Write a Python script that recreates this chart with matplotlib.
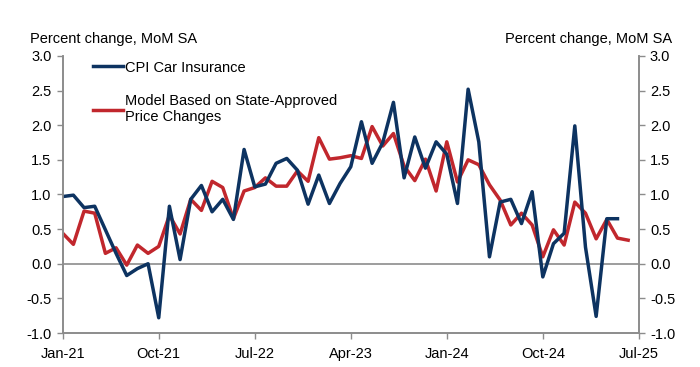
import matplotlib
matplotlib.use("Agg")
import matplotlib.pyplot as plt

plt.rcParams["font.family"] = ["Liberation Sans", "DejaVu Sans"]

# Monthly series, Jan-21 onward
cpi_car_insurance = [
    0.97, 0.99, 0.81, 0.83, 0.49, 0.15, -0.17, -0.07, 0.00, -0.78,
    0.83, 0.06, 0.93, 1.13, 0.75, 0.93, 0.64, 1.65, 1.11, 1.15,
    1.45, 1.52, 1.35, 0.86, 1.28, 0.87, 1.16, 1.40, 2.05, 1.45,
    1.75, 2.33, 1.24, 1.83, 1.38, 1.76, 1.58, 0.87, 2.52, 1.76,
    0.10, 0.89, 0.93, 0.58, 1.04, -0.19, 0.29, 0.44, 1.99, 0.24,
    -0.76, 0.65, 0.65,
]
model_state_approved = [
    0.44, 0.28, 0.76, 0.73, 0.15, 0.23, -0.02, 0.27, 0.15, 0.25,
    0.70, 0.43, 0.93, 0.77, 1.19, 1.10, 0.65, 1.05, 1.10, 1.24,
    1.12, 1.12, 1.34, 1.19, 1.82, 1.51, 1.53, 1.56, 1.52, 1.98,
    1.70, 1.88, 1.41, 1.20, 1.51, 1.05, 1.76, 1.18, 1.50, 1.43,
    1.14, 0.92, 0.56, 0.73, 0.56, 0.10, 0.49, 0.27, 0.89, 0.73,
    0.36, 0.64, 0.37, 0.34,
]
tick_months = [0, 9, 18, 27, 36, 45, 54]
tick_labels = ["Jan-21", "Oct-21", "Jul-22", "Apr-23", "Jan-24", "Oct-24", "Jul-25"]
y_ticks = [-1.0, -0.5, 0.0, 0.5, 1.0, 1.5, 2.0, 2.5, 3.0]

navy = "#0d3361"
red = "#c1272d"
grey = "#8c8c8c"

fig = plt.figure(figsize=(7, 3.67), dpi=100)
ax = fig.add_axes([0.0896, 0.0926, 0.823, 0.755])

ax.axhline(0, color=grey, lw=1.2, zorder=1)
ax.plot(range(len(cpi_car_insurance)), cpi_car_insurance, color=navy, lw=2.5,
        label="CPI Car Insurance", zorder=3)
ax.plot(range(len(model_state_approved)), model_state_approved, color=red, lw=2.5,
        label="Model Based on State-Approved\nPrice Changes", zorder=2)

ax.set_xlim(0, 54)
ax.set_ylim(-1.0, 3.0)
ax.set_xticks(tick_months)
ax.set_xticklabels(tick_labels)
ax.set_yticks(y_ticks)
ax.set_yticklabels([f"{v:.1f}" for v in y_ticks])

ax2 = ax.twinx()
ax2.set_ylim(-1.0, 3.0)
ax2.set_yticks(y_ticks)
ax2.set_yticklabels([f"{v:.1f}" for v in y_ticks])

for a in (ax, ax2):
    a.spines["top"].set_visible(False)
    for s in ("left", "right", "bottom"):
        a.spines[s].set_color(grey)
        a.spines[s].set_linewidth(1.2)
    a.tick_params(axis="both", colors=grey, labelcolor="black", labelsize=10.5,
                  length=4, width=1.0, direction="out", pad=4)
ax.tick_params(axis="x", pad=6)

ax.text(-0.057, 1.035, "Percent change, MoM SA", transform=ax.transAxes,
        fontsize=10.5, ha="left", va="bottom")
ax.text(1.058, 1.035, "Percent change, MoM SA", transform=ax.transAxes,
        fontsize=10.5, ha="right", va="bottom")

ax.legend(loc="upper left", bbox_to_anchor=(0.037, 1.015), frameon=False,
          fontsize=10.5, handlelength=2.05, handletextpad=0.15,
          labelspacing=1.35, borderaxespad=0.2)

fig.savefig("out.png", dpi=100)
plt.close()
